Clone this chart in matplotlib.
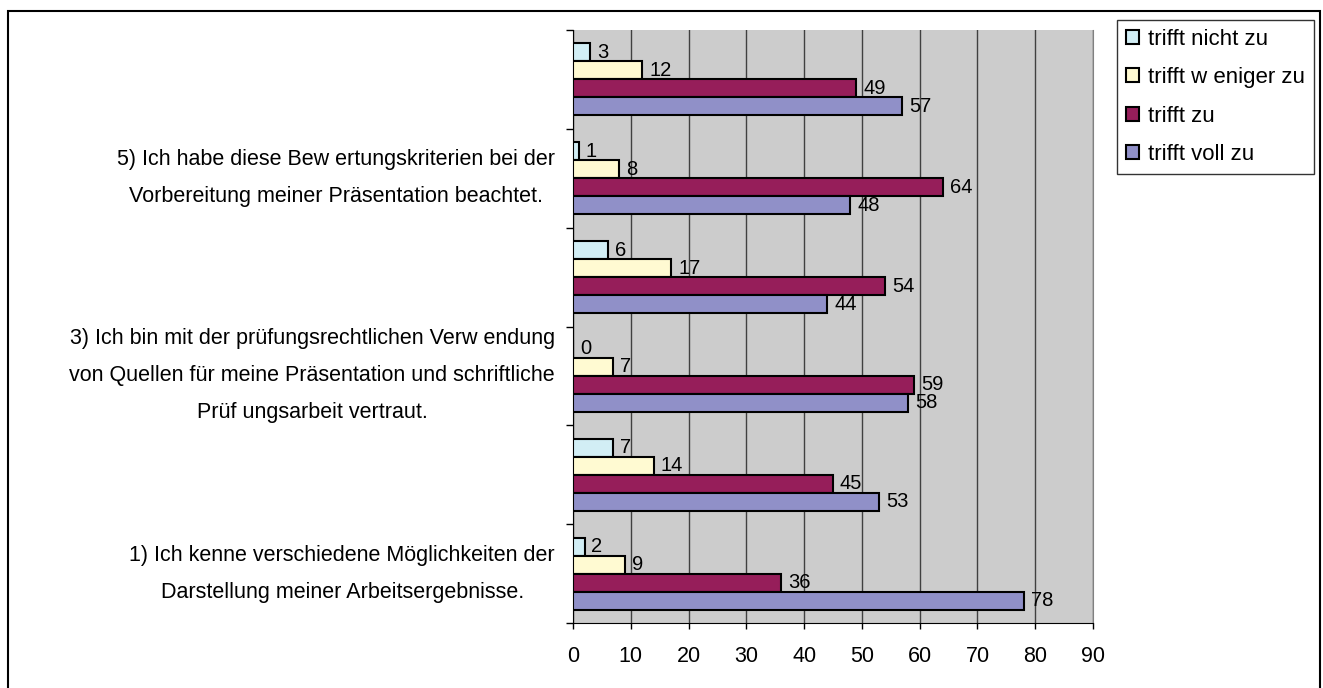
import matplotlib
matplotlib.use("Agg")
import matplotlib.pyplot as plt
from matplotlib.patches import Rectangle

# data (groups from bottom to top)
groups = [1, 2, 3, 4, 5, 6]
nicht = [2, 7, 0, 6, 1, 3]
weniger = [9, 14, 7, 17, 8, 12]
zu = [36, 45, 59, 54, 64, 49]
voll = [78, 53, 58, 44, 48, 57]

series_names = ['trifft nicht zu', 'trifft w eniger zu', 'trifft zu', 'trifft voll zu']

labels = {
    0: '1) Ich kenne verschiedene Möglichkeiten der\nDarstellung meiner Arbeitsergebnisse.',
    2: '3) Ich bin mit der prüfungsrechtlichen Verw endung\nvon Quellen für meine Präsentation und schriftliche\nPrüf ungsarbeit vertraut.',
    4: '5) Ich habe diese Bew ertungskriterien bei der\nVorbereitung meiner Präsentation beachtet.',
}

plt.rcParams['font.family'] = ['Liberation Sans', 'DejaVu Sans']
fs = 15.5

fig = plt.figure(figsize=(13.23, 6.88), dpi=100)
ax = fig.add_axes([573/1323, 1-623/688, 520/1323, 593/688])
ax.set_facecolor('#CCCCCC')

h = 0.182
ypos = list(range(len(groups)))
cols = ['#D2EEF5', '#FFFAD2', '#961E5A', '#9090C8']
vals = [nicht, weniger, zu, voll]
offs = [1.5*h, 0.5*h, -0.5*h, -1.5*h]

bars = []
for v, c, o, n in zip(vals, cols, offs, series_names):
    b = ax.barh([y + o for y in ypos], v, height=h, color=c,
                edgecolor='black', linewidth=1.5, label=n, zorder=3)
    bars.append(b)
    for y, val in zip(ypos, v):
        ax.annotate(str(val), (val, y + o), xytext=(5, 0), textcoords='offset points',
                    ha='left', va='center', fontsize=14.5, zorder=4)

ax.set_xlim(0, 90)
ax.set_ylim(-0.5, 5.5)
ax.set_xticks(range(0, 91, 10))
ax.set_yticks([y - 0.5 for y in range(7)])
ax.set_yticklabels([])
ax.tick_params(axis='x', direction='out', length=4.5, width=1, labelsize=fs, pad=12)
ax.tick_params(axis='y', direction='out', length=5, width=1)
ax.grid(axis='x', color='#404040', linewidth=1, zorder=0)

ax.spines['top'].set_visible(False)
ax.spines['right'].set_color('#808080')
ax.spines['left'].set_color('black')
ax.spines['bottom'].set_color('black')

for y, t in labels.items():
    ax.annotate(t, (0, y), xytext=(-13, 0), textcoords='offset points',
                xycoords=('axes fraction', 'data'),
                ha='right', va='center', multialignment='center',
                fontsize=fs, linespacing=2.0)

leg = fig.legend(handles=bars, labels=series_names, loc='upper left',
                 bbox_to_anchor=(1117/1323, 1-20/688), bbox_transform=fig.transFigure,
                 borderaxespad=0, fontsize=16, frameon=True, fancybox=False,
                 edgecolor='black', handlelength=0.6, handleheight=0.6,
                 handletextpad=0.4, labelspacing=0.78, borderpad=0.4)
leg.get_frame().set_linewidth(1)

# outer chart border
fig.patches.append(Rectangle((8/1323, -0.05), (1320-8)/1323, 1.05 - 11/688,
                             transform=fig.transFigure, fill=False,
                             edgecolor='black', linewidth=1.5))

fig.savefig('out.png', dpi=100)
